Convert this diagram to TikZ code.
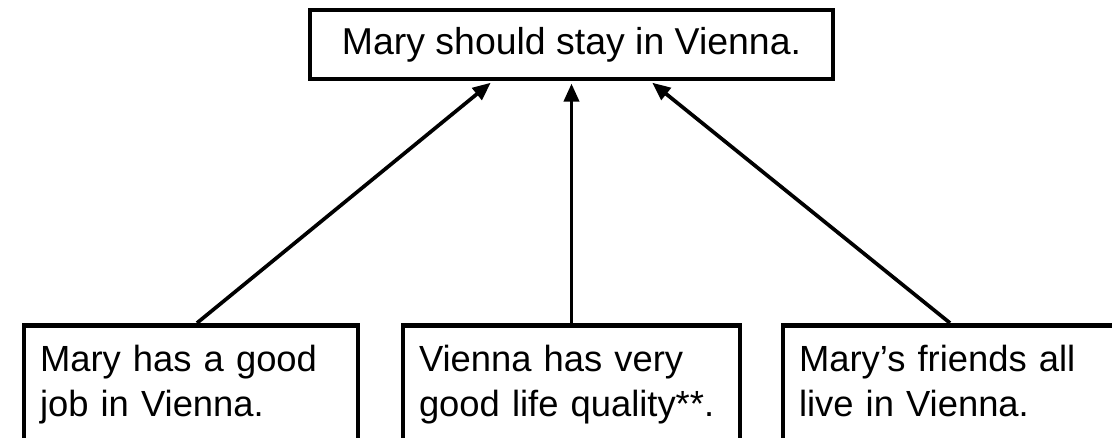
\documentclass[tikz,border=0pt]{standalone}
\usepackage{fontspec}
\setmainfont{Liberation Sans}
\usetikzlibrary{arrows.meta, positioning, calc}

\begin{document}
\begin{tikzpicture}[
    claim/.style={draw, line width=2.6pt, inner sep=0pt, font=\fontsize{21.3}{25.6}\selectfont},
    reason/.style={claim, font=\fontsize{20.7}{25.6}\selectfont, anchor=north, minimum height=2.4cm, inner xsep=0.32cm, text width=6.04cm, align=left,
        execute at begin node=\strut, execute at end node=\strut},
    support/.style={-{Triangle[length=0.36cm, width=0.3cm]}, line width=2.1pt, shorten >=1.3pt}
]

\useasboundingbox (0,0) rectangle (22.24,-8.76);
\clip (0,0) rectangle (22.24,-8.76);

% conclusion
\node[claim, minimum width=10.46cm, minimum height=1.38cm] (goal) at (11.43,-0.89) {Mary should stay in Vienna.};

% reasons
\node[reason] (job) at (3.82,-6.46) {Mary has a good\\job in Vienna.};
\node[reason, text width=6.1cm] (life) at (11.43,-6.46) {Vienna has very\\good life quality**.};
\node[reason] (friends) at (19.0,-6.46) {Mary’s friends all\\live in Vienna.};

\draw[support] ($(job.north)+(0.12,0)$) -- ($(goal.south)+(-1.58,0)$);
\draw[support] (life.north) -- (goal.south);
\draw[support] (friends.north) -- ($(goal.south)+(1.58,0)$);

\end{tikzpicture}
\end{document}
